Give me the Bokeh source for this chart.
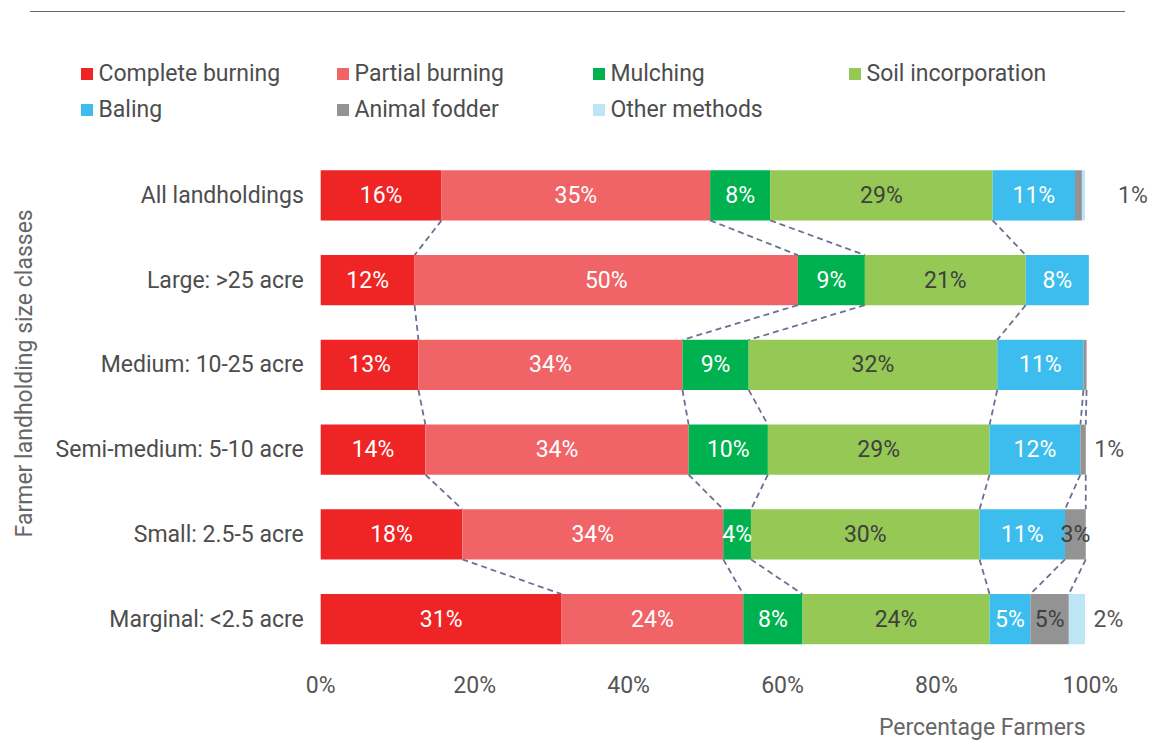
import math
from bokeh.plotting import figure
from bokeh.models import (Range1d, FixedTicker, Legend, LegendItem, Div, Title)
from bokeh.layouts import column
from bokeh.embed import file_html
from bokeh.resources import INLINE
from bokeh.core.properties import value

# ---------------- data ----------------
categories = ["All landholdings", "Large: >25 acre", "Medium: 10-25 acre",
              "Semi-medium: 5-10 acre", "Small: 2.5-5 acre", "Marginal: <2.5 acre"]
series_names = ["Complete burning", "Partial burning", "Mulching", "Soil incorporation",
                "Baling", "Animal fodder", "Other methods"]
complete_burning   = [15.7, 12.2, 12.7, 13.6, 18.4, 31.3]
partial_burning    = [34.9, 49.8, 34.3, 34.2, 33.9, 23.6]
mulching           = [7.8, 8.7, 8.6, 10.3, 3.6, 7.7]
soil_incorporation = [28.9, 20.9, 32.3, 28.8, 29.7, 24.3]
baling             = [10.7, 8.2, 11.2, 11.8, 11.1, 5.3]
animal_fodder      = [0.9, None, 0.4, 0.7, 2.7, 5.0]
other_methods      = [0.4, None, 0.0, 0.0, 0.0, 2.1]
x_ticks = [0, 20, 40, 60, 80, 100]
x_tick_labels = ["0%", "20%", "40%", "60%", "80%", "100%"]
x_title = "Percentage Farmers"
y_title = "Farmer landholding size classes"

# ---------------- style ----------------
colors = ["#EE2524", "#F06467", "#00B14F", "#95C854", "#3CBDED", "#939393", "#BDE5F6"]
label_colors = ["white", "white", "white", "#404040", "white", "#404040", "#404040"]
FONT = "Roboto"
FS = "23px"
TXT = "#4d4d4d"
BAR_H = 0.59
OUT_PAD = [4.3, 1.1, 1.1, 1.1, 1.1, 1.1]
CAT_LABEL_X = -2.2      # category labels sit just left of 0 %
Y_TITLE_X = -38.5
Y_TITLE_Y = 2.1

series = [complete_burning, partial_burning, mulching, soil_incorporation,
          baling, animal_fodder, other_methods]
n = len(categories)
W = 1153
H_MAIN = 737

# ---------------- top rule ----------------
rule = Div(text="", width=1095, height=2, margin=(11, 0, 0, 30),
           styles={"border-top": "1.5px solid #6b6b6b"})

# ---------------- main chart ----------------
p = figure(width=W, height=H_MAIN, x_range=Range1d(-41.6, 108.2),
           y_range=Range1d(5.5, -2.146),
           output_backend="svg", toolbar_location=None, title=None,
           y_axis_location=None,
           min_border_left=0, min_border_right=0, min_border_top=0, min_border_bottom=89)
p.grid.visible = False
p.outline_line_color = None

cum = []
for i in range(n):
    c = [0.0]
    for s in series:
        c.append(c[-1] + (s[i] or 0.0))
    cum.append(c)

renderers = []
in_x, in_y, in_t, in_c = [], [], [], []
out_x, out_y, out_t = [], [], []
for k, s in enumerate(series):
    ys, ls, rs = [], [], []
    for i in range(n):
        v = s[i]
        if v is None or v <= 0:
            continue
        ys.append(i)
        ls.append(cum[i][k])
        rs.append(cum[i][k + 1])
        if v >= 2.5:
            in_x.append((cum[i][k] + cum[i][k + 1]) / 2)
            in_y.append(i)
            in_t.append(f"{v:.0f}%")
            in_c.append(label_colors[k])
        elif round(v) >= 1:
            out_x.append(cum[i][-1] + OUT_PAD[i])
            out_y.append(i)
            out_t.append(f"{v:.0f}%")
    r = p.hbar(y=ys, left=ls, right=rs, height=BAR_H, fill_color=colors[k], line_color=None)
    renderers.append(r)

# connectors between consecutive bars at segment boundaries
cx0, cy0, cx1, cy1 = [], [], [], []
for i in range(n - 1):
    for k in range(1, len(series)):
        if series[k][i] is None or series[k][i + 1] is None:
            continue
        cx0.append(cum[i][k]); cy0.append(i + BAR_H / 2)
        cx1.append(cum[i + 1][k]); cy1.append(i + 1 - BAR_H / 2)
p.segment(x0=cx0, y0=cy0, x1=cx1, y1=cy1, line_color="#6B7092", line_width=1.8,
          line_dash="6 4")

# value labels
p.text(x=in_x, y=in_y, text=in_t, text_color=in_c, text_align="center",
       text_baseline="middle", text_font=value(FONT), text_font_size=FS)
p.text(x=out_x, y=out_y, text=out_t, text_color="#555555", text_align="left",
       text_baseline="middle", text_font=value(FONT), text_font_size=FS)

# category labels (left of the bars)
p.text(x=[CAT_LABEL_X] * n, y=list(range(n)), text=categories, text_color=TXT,
       text_align="right", text_baseline="middle", text_font=value(FONT),
       text_font_size=FS)

# y title
p.text(x=[Y_TITLE_X], y=[Y_TITLE_Y], text=[y_title], angle=math.pi / 2,
       text_color="#666666", text_align="center", text_baseline="middle",
       text_font=value(FONT), text_font_size=FS)

# legend
items = [LegendItem(label=nm, renderers=[r]) for nm, r in zip(series_names, renderers)]
leg = Legend(items=items, location=(78.5, 534), orientation="horizontal", ncols=4,
             glyph_width=15, glyph_height=15, label_standoff=5, label_width=236,
             label_height=36, spacing=0, padding=0, margin=0,
             label_text_font=FONT, label_text_font_size=FS, label_text_color=TXT,
             background_fill_alpha=0, border_line_color=None)
p.add_layout(leg)

xa = p.xaxis[0]
xa.ticker = FixedTicker(ticks=x_ticks)
xa.major_label_overrides = {t: l for t, l in zip(x_ticks, x_tick_labels)}
xa.axis_line_color = None
xa.major_tick_line_color = None
xa.minor_tick_line_color = None
xa.major_label_standoff = 4
xa.major_label_text_font = FONT
xa.major_label_text_font_size = FS
xa.major_label_text_color = "#555555"

p.add_layout(Title(text=x_title, align="right", offset=68, standoff=20,
                   text_font=FONT, text_font_size=FS, text_font_style="normal",
                   text_color="#666666"), "below")

layout = column(rule, p, spacing=0)
open("out.html", "w").write(file_html(layout, INLINE))
